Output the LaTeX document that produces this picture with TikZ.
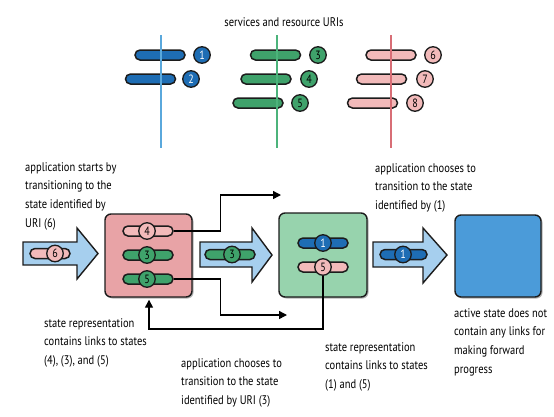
\documentclass[tikz,border=0pt]{standalone}
\usepackage{fontspec}
\setmainfont[FakeStretch=0.84]{PT Sans}
\usetikzlibrary{shapes.misc,arrows.meta,shadows}
\definecolor{dblue}{HTML}{1E6DB4}
\definecolor{lblue}{HTML}{5AA8DC}
\definecolor{dgreen}{HTML}{3FA26B}
\definecolor{lgreen}{HTML}{4CB37B}
\definecolor{pinkbar}{HTML}{F2BABA}
\definecolor{lpink}{HTML}{D86E76}
\definecolor{pinkbox}{HTML}{E8A3A6}
\definecolor{greenbox}{HTML}{97D3AD}
\definecolor{bluebox}{HTML}{4B9BD9}
\definecolor{arrowfill}{HTML}{A6CFEE}
\definecolor{outl}{HTML}{1C1C1C}
\tikzset{
  bar/.style={rounded rectangle, draw=outl, line width=1.5pt, minimum width=#1, minimum height=10pt, inner sep=0pt},
  bar/.default=50pt,
  dig/.style={circle, draw=outl, line width=1.3pt, minimum size=16.5pt, inner sep=0pt, font=\fontsize{12}{12}\selectfont},
  statebox/.style={draw=outl, line width=1.4pt, rounded corners=6pt, inner sep=0pt, drop shadow={shadow xshift=1.5pt, shadow yshift=-1.5pt, opacity=0.6}},
  blockarrow/.style={draw=outl, line width=1.4pt, fill=arrowfill, line join=miter},
  conn/.style={draw=black, line width=1.4pt, -{Triangle[length=8pt,width=8pt]}},
  vline/.style={line width=2.2pt},
  txt/.style={anchor=north west, align=left, inner sep=0pt, font=\fontsize{12.5}{18.7}\selectfont}
}
\begin{document}
\begin{tikzpicture}[x=1pt,y=-1pt]
\useasboundingbox (0,0) rectangle (554,416);
% title
\node[inner sep=0pt, font=\fontsize{12.5}{14}\selectfont] (title) at (284,22) {services and resource URIs};
% top bars: blue
\node[bar, fill=dblue] (u1) at (160,55) {};
\node[bar, fill=dblue] (u2) at (150.5,79) {};
\draw[vline, lblue] (161,35) coordinate (bt) -- (161,148) coordinate (bb);
\node[dig, fill=dblue, text=white] (n1) at (202,55) {1};
\node[dig, fill=dblue, text=white] (n2) at (191,79) {2};
% green
\node[bar, fill=dgreen] (u3) at (275.5,55) {};
\node[bar, fill=dgreen] (u4) at (266,79) {};
\node[bar, fill=dgreen] (u5) at (258,103) {};
\draw[vline, lgreen] (277,35) coordinate (gt) -- (277,148) coordinate (gb);
\node[dig, fill=dgreen] (n3) at (318,55) {3};
\node[dig, fill=dgreen] (n4) at (309,79) {4};
\node[dig, fill=dgreen] (n5) at (300,103) {5};
% pink
\node[bar, fill=pinkbar] (u6) at (391,55) {};
\node[bar, fill=pinkbar] (u7) at (381.5,79) {};
\node[bar, fill=pinkbar] (u8) at (372.5,103) {};
\draw[vline, lpink] (391,35) coordinate (pt) -- (391,148) coordinate (pb);
\node[dig, fill=pinkbar] (n6) at (433,55) {6};
\node[dig, fill=pinkbar] (n7) at (425,79) {7};
\node[dig, fill=pinkbar] (n8) at (415,103) {8};

% block arrows
\draw[blockarrow] (23,242) coordinate (a1) -- (77,242) -- (77,228) -- (98,253.5) -- (77,279) -- (77,265) -- (23,265) -- cycle;
\node[bar=40pt, fill=pinkbar] (ab1) at (50,253.5) {};
\node[dig, fill=pinkbar] (ac1) at (55,253.5) {6};

\draw[blockarrow] (200,242) coordinate (a2) -- (252,242) -- (252,228) -- (272,255) -- (252,282) -- (252,267) -- (200,267) -- cycle;
\node[bar, fill=dgreen] (ab2) at (230,254.5) {};
\node[dig, fill=dgreen] (ac2) at (232,254.5) {3};

\draw[blockarrow] (373,242) coordinate (a3) -- (423,242) -- (423,228) -- (447,255) -- (423,283) -- (423,267) -- (373,267) -- cycle;
\node[bar=47pt, fill=dblue] (ab3) at (403.5,254.5) {};
\node[dig, fill=dblue, text=white] (ac3) at (403,254.5) {1};

% state boxes
\node[statebox, fill=pinkbox, minimum width=87pt, minimum height=83pt] (pbox) at (148.5,255.5) {};
\node[statebox, fill=greenbox, minimum width=88pt, minimum height=84pt] (gbox) at (323,255) {};
\node[statebox, fill=bluebox, minimum width=86pt, minimum height=82pt] (bbox) at (498,256) {};

% bars in pink box
\node[bar, fill=pinkbar] (p4) at (148,231) {};
\node[dig, fill=pinkbar] (pc4) at (147,231) {4};
\node[bar, fill=dgreen] (p3) at (148,255) {};
\node[dig, fill=dgreen] (pc3) at (147,255) {3};
\node[bar, fill=dgreen] (p5) at (148,279) {};
\node[dig, fill=dgreen] (pc5) at (147,279) {5};

% bars in green box
\node[bar, fill=dblue] (g1) at (323,243) {};
\node[dig, fill=dblue, text=white] (gc1) at (323,243) {1};
\node[bar, fill=pinkbar] (g5) at (323,267) {};
\node[dig, fill=pinkbar] (gc5) at (323,267) {5};

% connectors
\coordinate (c1) at (281,195);
\coordinate (c2) at (287,315);
\coordinate (r1) at (149,329);
\draw[conn] (p4.east) -- ++(47,0) |- (c1);
\draw[conn] (p5.east) -- ++(47,0) |- (c2);
\draw[conn, shorten >=2pt] (gc5.south) |- (r1) -- (r1 |- pbox.south);

% texts
\node[txt] (t1) at (25,162) {application starts by\\transitioning to the\\state identified by\\URI (6)};
\node[txt] (t2) at (375,163) {application chooses to\\transition to the state\\identified by (1)};
\node[txt] (t3) at (44,318) {state representation\\contains links to states\\(4), (3), and (5)};
\node[txt] (t4) at (181,358) {application chooses to\\transition to the state\\identified by URI (3)};
\node[txt] (t5) at (325,342) {state representation\\contains links to states\\(1) and (5)};
\node[txt] (t6) at (454,308) {active state does not\\contain any links for\\making forward\\progress};
\end{tikzpicture}
\end{document}
